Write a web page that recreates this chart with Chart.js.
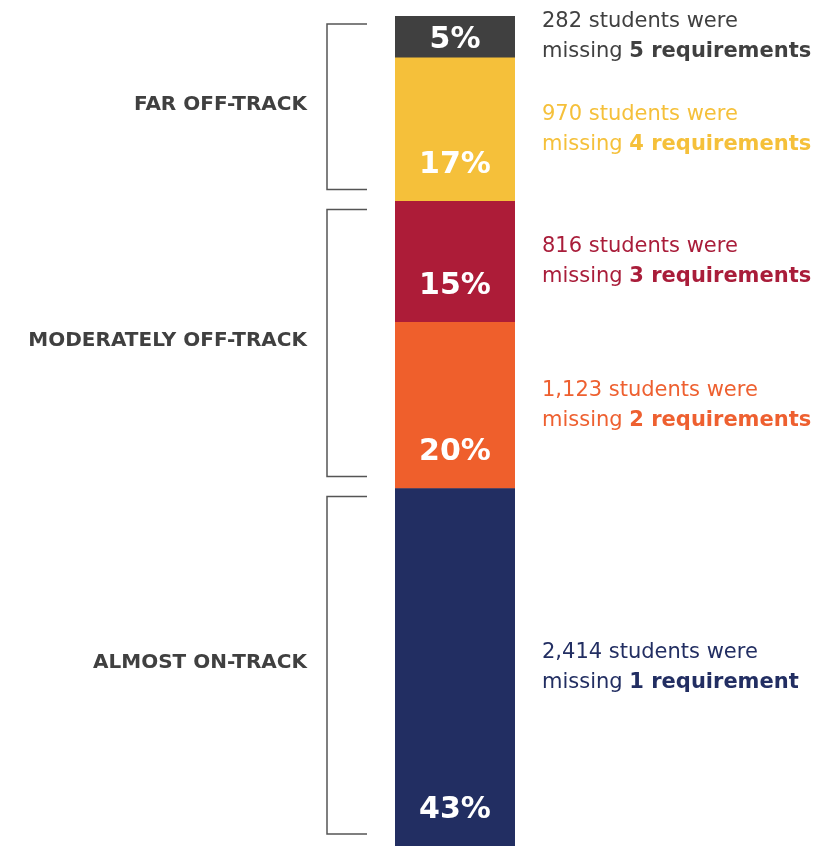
<!DOCTYPE html>
<html>
<head>
<meta charset="utf-8">
<script src="https://cdn.jsdelivr.net/npm/chart.js@4/dist/chart.umd.min.js"></script>
<style>
html,body{margin:0;padding:0;background:#fff;}
#wrap{width:814px;height:846px;position:relative;}
</style>
</head>
<body>
<div id="wrap"><canvas id="c" width="814" height="846"></canvas></div>
<script>
// Segments listed bottom to top
const requirementsMissing = [1, 2, 3, 4, 5];
const studentCounts = [2414, 1123, 816, 970, 282];
const segmentColors = ['#222E62', '#EF5F2C', '#AD1C38', '#F5C03A', '#404040'];
const textColors = ['#222E62', '#EE6030', '#A91D3A', '#F5C03A', '#404040'];
const groupLabels = ['ALMOST ON-TRACK', 'MODERATELY OFF-TRACK', 'FAR OFF-TRACK'];
const groupMembers = [[0], [1, 2], [3, 4]];

const total = studentCounts.reduce((a, b) => a + b, 0);

const datasets = studentCounts.map((v, i) => ({
  label: requirementsMissing[i] + ' requirement' + (requirementsMissing[i] > 1 ? 's' : ''),
  data: [v],
  backgroundColor: segmentColors[i],
  borderWidth: 0,
  barPercentage: 1,
  categoryPercentage: 1
}));

const TEXT_FONT = '"DejaVu Sans", sans-serif';

const annotate = {
  id: 'annotate',
  afterDatasetsDraw(chart) {
    const ctx = chart.ctx;
    const y = chart.scales.y;
    const x = chart.scales.x;
    const left = x.left, right = x.right;
    const cx = (left + right) / 2;
    let cum = 0;
    const bounds = studentCounts.map(v => {
      const bottom = y.getPixelForValue(cum);
      cum += v;
      const top = y.getPixelForValue(cum);
      return {top, bottom};
    });
    ctx.save();
    // percentages inside the bar
    ctx.fillStyle = '#fff';
    ctx.textAlign = 'center';
    ctx.textBaseline = 'middle';
    ctx.font = 'bold 30px ' + TEXT_FONT;
    bounds.forEach((b, i) => {
      const pct = Math.round(studentCounts[i] / total * 100) + '%';
      const mid = (b.top + b.bottom) / 2;
      const py = Math.max(mid + 3, b.bottom - 36);
      ctx.fillText(pct, cx, py);
    });
    // right side descriptions
    ctx.textAlign = 'left';
    ctx.textBaseline = 'middle';
    bounds.forEach((b, i) => {
      const mid = (b.top + b.bottom) / 2;
      const tx = right + 27;
      ctx.fillStyle = textColors[i];
      ctx.font = '21px ' + TEXT_FONT;
      ctx.fillText(studentCounts[i].toLocaleString('en-US') + ' students were', tx, mid - 15);
      const pre = 'missing ';
      ctx.fillText(pre, tx, mid + 15);
      const w = ctx.measureText(pre).width;
      ctx.font = 'bold 21px ' + TEXT_FONT;
      const n = requirementsMissing[i];
      ctx.fillText(n + ' requirement' + (n > 1 ? 's' : ''), tx + w, mid + 15);
    });
    // brackets + group labels
    ctx.strokeStyle = '#555';
    ctx.lineWidth = 1.5;
    groupMembers.forEach((members, g) => {
      const gb = Math.max(...members.map(m => bounds[m].bottom));
      const gt = Math.min(...members.map(m => bounds[m].top));
      const top = gt + 8, bottom = gb - 12;
      const bx = left - 68, bx2 = left - 28;
      ctx.beginPath();
      ctx.moveTo(bx2, top);
      ctx.lineTo(bx, top);
      ctx.lineTo(bx, bottom);
      ctx.lineTo(bx2, bottom);
      ctx.stroke();
      ctx.fillStyle = '#404040';
      ctx.font = 'bold 20px ' + TEXT_FONT;
      ctx.textAlign = 'right';
      ctx.fillText(groupLabels[g], bx - 20, (top + bottom) / 2 - 2);
    });
    ctx.restore();
  }
};

new Chart(document.getElementById('c'), {
  type: 'bar',
  data: { labels: [''], datasets },
  options: {
    responsive: false,
    animation: false,
    layout: { padding: { left: 395, right: 299, top: 16, bottom: 0 } },
    plugins: { legend: { display: false }, tooltip: { enabled: false } },
    scales: {
      x: { stacked: true, display: false },
      y: { stacked: true, display: false, min: 0, max: total }
    }
  },
  plugins: [annotate]
});
</script>
</body>
</html>
